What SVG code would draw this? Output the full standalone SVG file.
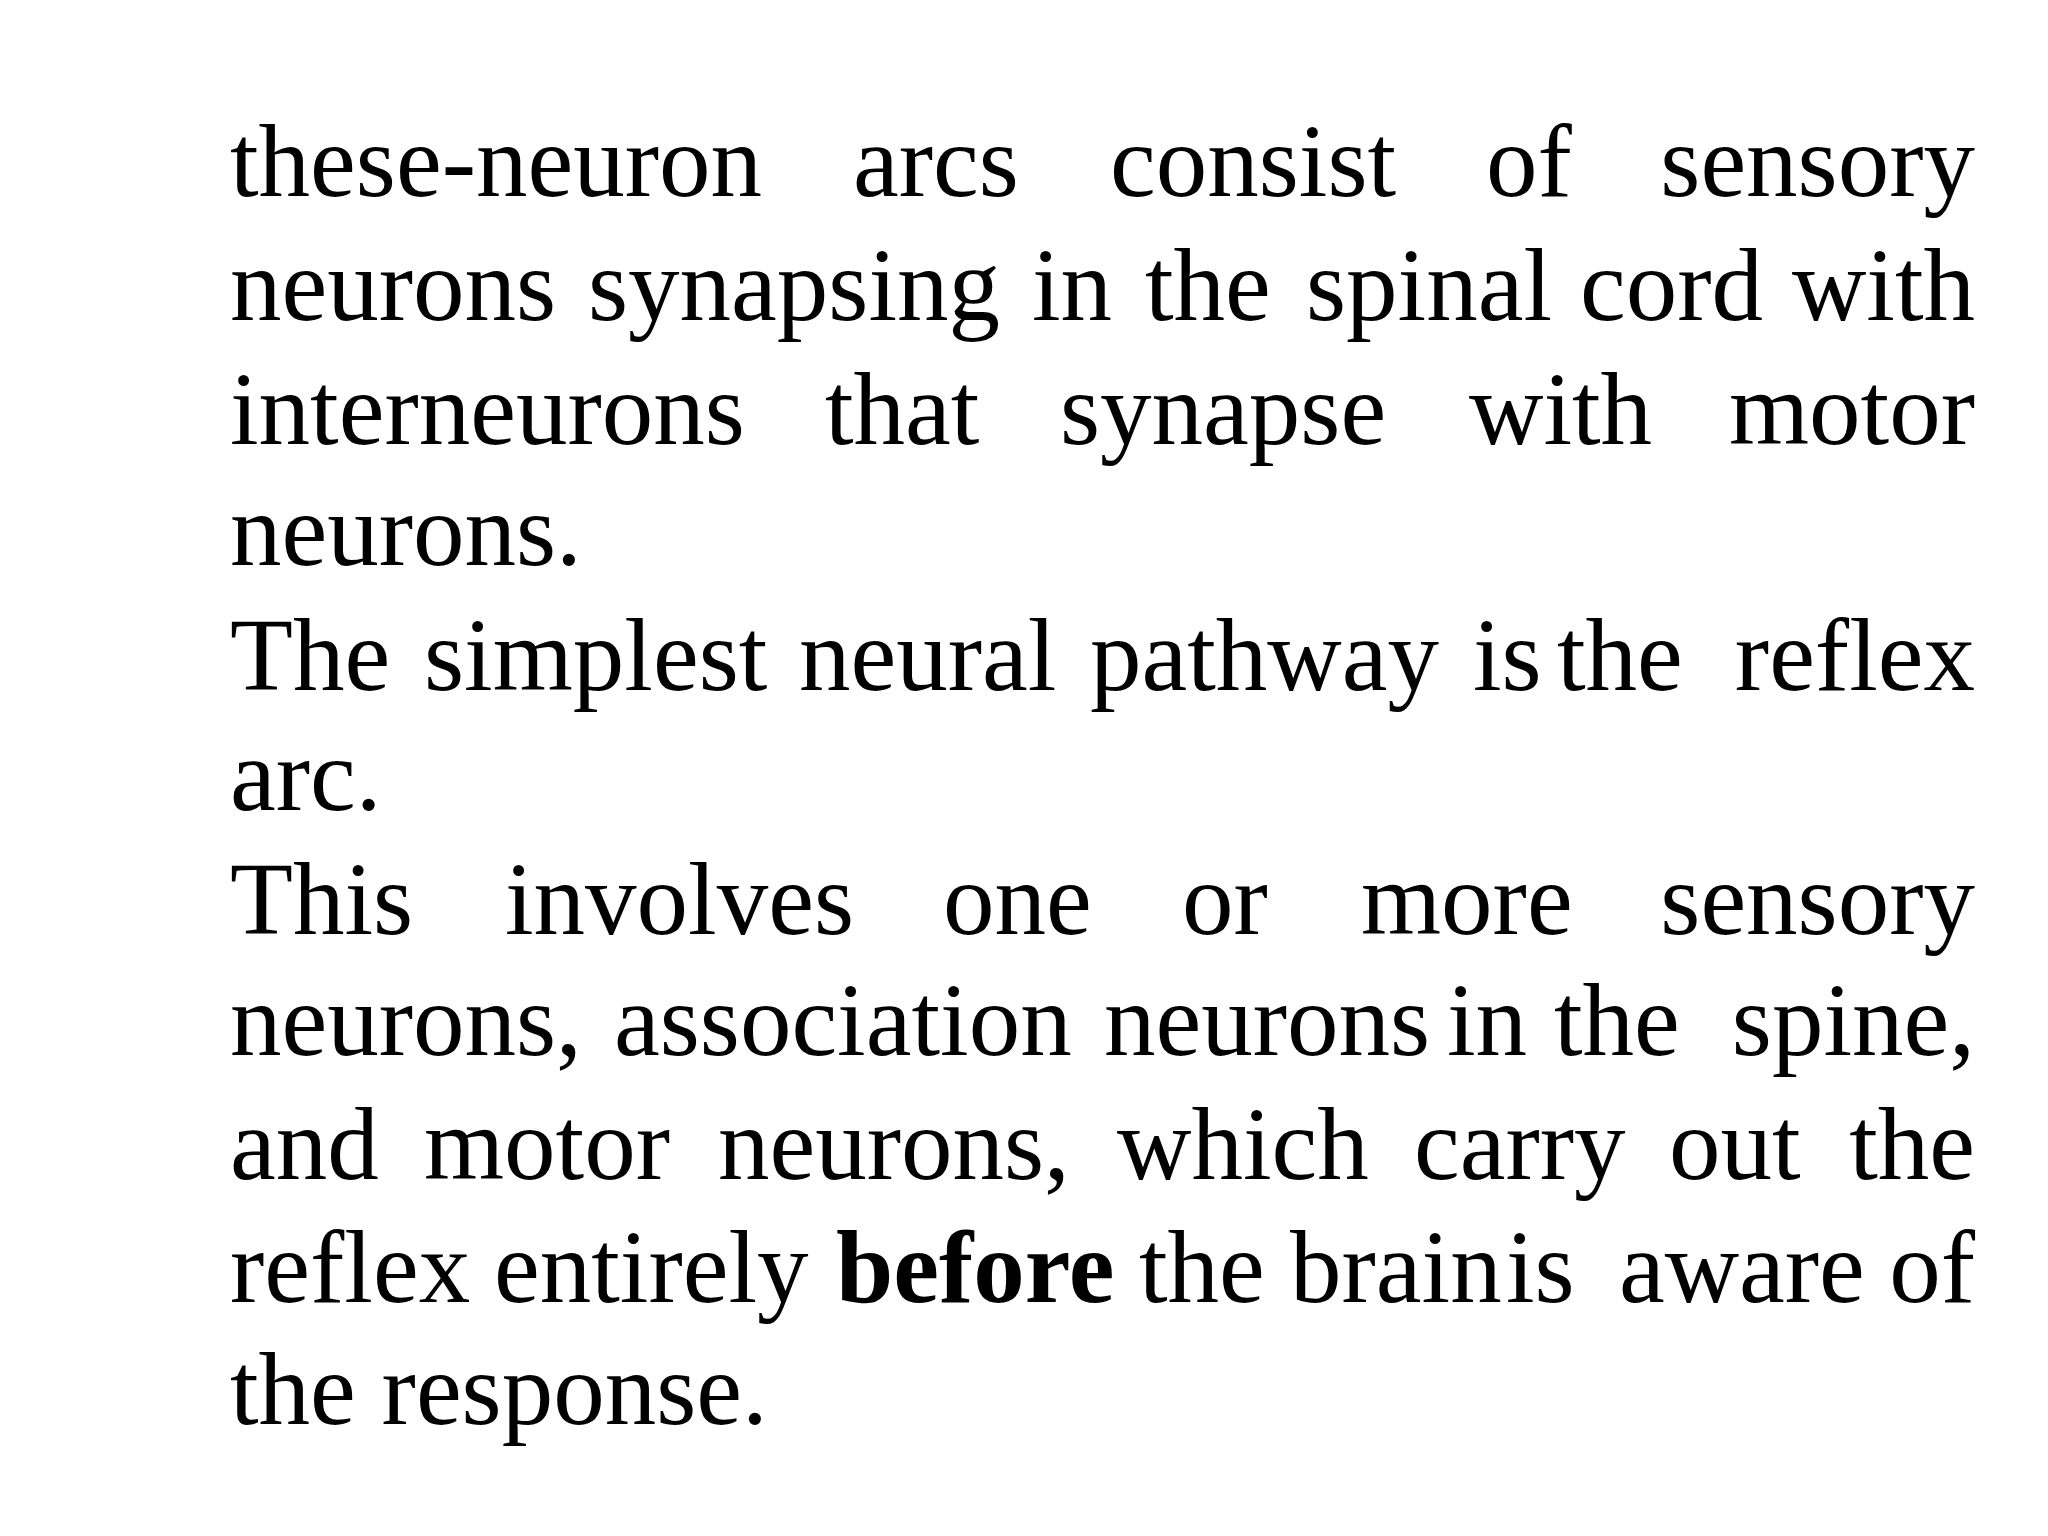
<svg xmlns="http://www.w3.org/2000/svg" width="2048" height="1536" viewBox="0 0 2048 1536">
<style>
text{font-family:"Liberation Serif","Times New Roman",serif;font-size:103px;fill:#000}
.e{text-anchor:end}
.b{font-weight:bold}
</style>
<rect width="2048" height="1536" fill="#fff"/>
<g id="body">
<text y="196"><tspan x="230">these-neuron</tspan><tspan x="853">arcs</tspan><tspan x="1110">consist</tspan><tspan x="1486">of</tspan></text>
<text class="e" x="1975" y="196">sensory</text>
<text y="320"><tspan x="230">neurons</tspan><tspan x="588">synapsing</tspan><tspan x="1032">in</tspan><tspan x="1145">the</tspan><tspan x="1306">spinal</tspan><tspan x="1580">cord</tspan></text>
<text class="e" x="1975" y="320">with</text>
<text y="444"><tspan x="230">interneurons</tspan><tspan x="825">that</tspan><tspan x="1060">synapse</tspan><tspan x="1469">with</tspan></text>
<text class="e" x="1975" y="444">motor</text>
<text x="230" y="565">neurons.</text>
<text y="690"><tspan x="230">The</tspan><tspan x="424">simplest</tspan><tspan x="799">neural</tspan><tspan x="1090">pathway</tspan><tspan x="1473">is</tspan><tspan x="1557">the</tspan></text>
<text class="e" x="1975" y="690">reflex</text>
<text x="230" y="810">arc.</text>
<text y="934"><tspan x="230">This</tspan><tspan x="505">involves</tspan><tspan x="943">one</tspan><tspan x="1182">or</tspan><tspan x="1361">more</tspan></text>
<text class="e" x="1975" y="934">sensory</text>
<text y="1055"><tspan x="230">neurons,</tspan><tspan x="614">association</tspan><tspan x="1104">neurons</tspan><tspan x="1447">in</tspan><tspan x="1554">the</tspan></text>
<text class="e" x="1975" y="1055">spine,</text>
<text y="1179"><tspan x="230">and</tspan><tspan x="424">motor</tspan><tspan x="718">neurons,</tspan><tspan x="1117">which</tspan><tspan x="1414">carry</tspan><tspan x="1669">out</tspan></text>
<text class="e" x="1975" y="1179">the</text>
<text y="1302"><tspan x="230">reflex</tspan><tspan x="494">entirely</tspan><tspan x="836" class="b">before</tspan><tspan x="1139">the</tspan><tspan x="1290">brain</tspan><tspan x="1506">is</tspan><tspan x="1619">aware</tspan></text>
<text class="e" x="1975" y="1302">of</text>
<text x="230" y="1424">the response.</text>
</g>
</svg>
